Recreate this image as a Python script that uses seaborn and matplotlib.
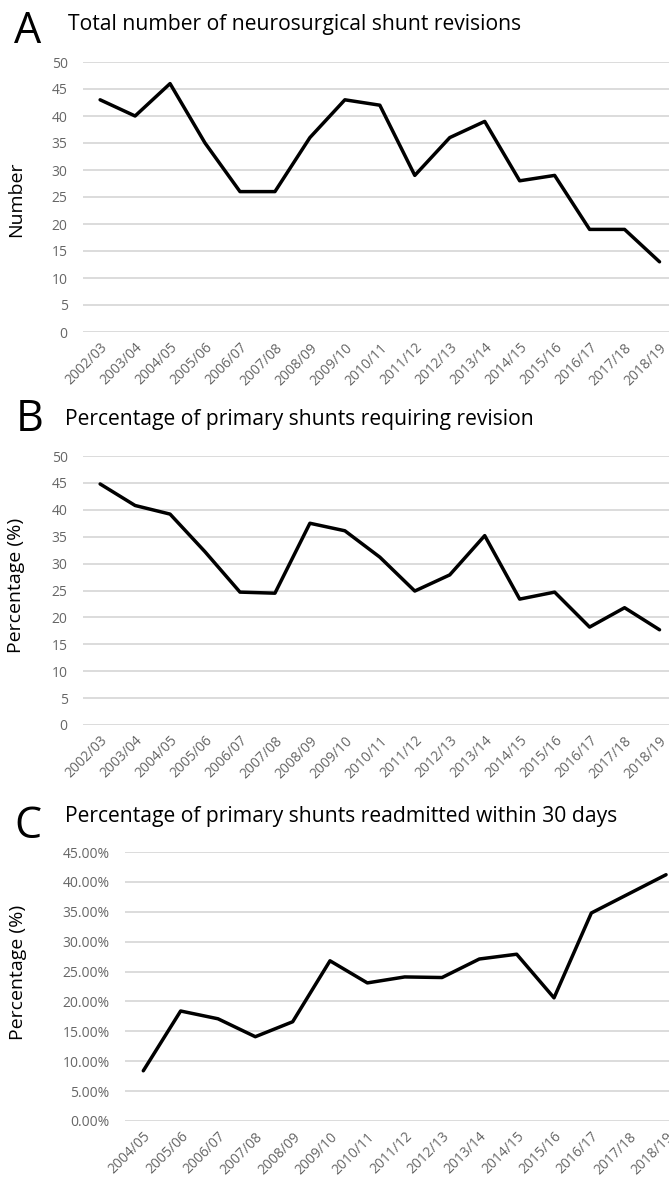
import numpy as np
import pandas as pd
import seaborn as sns
import matplotlib.pyplot as plt
from matplotlib.ticker import FuncFormatter

# Data
years_ab = ["2002/03", "2003/04", "2004/05", "2005/06", "2006/07", "2007/08",
            "2008/09", "2009/10", "2010/11", "2011/12", "2012/13", "2013/14",
            "2014/15", "2015/16", "2016/17", "2017/18", "2018/19"]
revisions = [43, 40, 46, 35, 26, 26, 36, 43, 42, 29, 36, 39, 28, 29, 19, 19, 13]
pct_revision = [44.8, 40.8, 39.2, 32.2, 24.7, 24.5, 37.5, 36.1, 31.2, 24.9,
                27.9, 35.2, 23.4, 24.7, 18.2, 21.8, 17.7]
years_c = years_ab[2:]
pct_readmit = [8.4, 18.4, 17.1, 14.1, 16.6, 26.8, 23.1, 24.1, 24.0, 27.1,
               27.9, 20.6, 34.8, 38.0, 41.2]

sns.set_theme(style="white")
plt.rcParams['font.family'] = ['Open Sans', 'DejaVu Sans']

W, H = 669, 1178
fig = plt.figure(figsize=(W / 100, H / 100), dpi=100)


def px_axes(left, top0, bottom0, right=W):
    # axes rect from pixel coords (top-left origin)
    return fig.add_axes([left / W, 1 - bottom0 / H, (right - left) / W, (bottom0 - top0) / H])


def style(ax, ymax, xmax, ylabel, ylab_x, ylab_y):
    ax.set_ylim(0, ymax)
    ax.set_yticks(np.arange(0, ymax + 2.5, 5))
    ax.set_xlim(-0.49, xmax)
    ax.grid(axis='y', color='#d9d9d9', linewidth=1.3)
    ax.grid(axis='x', visible=False)
    ax.set_axisbelow(True)
    for s in ax.spines.values():
        s.set_visible(False)
    ax.tick_params(axis='y', length=0, colors='#666666', labelsize=10, pad=11)
    ax.tick_params(axis='x', length=0, colors='#666666', labelsize=10, pad=6)
    plt.setp(ax.get_xticklabels(), rotation=45, ha='right', rotation_mode='anchor')
    ax.set_xlabel("")
    ax.set_ylabel(ylabel, fontsize=14, color='black')
    ax.yaxis.set_label_coords(ylab_x / W, 1 - ylab_y / H, transform=fig.transFigure)


# Panel A
axA = px_axes(83, 62, 332)
dfA = pd.DataFrame({"year": years_ab, "value": revisions})
sns.lineplot(data=dfA, x="year", y="value", color='black', linewidth=2.5, ax=axA)
style(axA, 50, (669 - 100) / 34.97, "Number", 25, 199)

# Panel B
axB = px_axes(83, 456, 725)
dfB = pd.DataFrame({"year": years_ab, "value": pct_revision})
sns.lineplot(data=dfB, x="year", y="value", color='black', linewidth=2.5, ax=axB)
style(axB, 50, (669 - 100) / 34.97, "Percentage (%)", 25, 585)

# Panel C
axC = px_axes(125, 852, 1121)
dfC = pd.DataFrame({"year": years_c, "value": pct_readmit})
sns.lineplot(data=dfC, x="year", y="value", color='black', linewidth=2.5, ax=axC)
style(axC, 45, (669 - 143) / 37.36, "Percentage (%)", 27, 972)
axC.yaxis.set_major_formatter(FuncFormatter(lambda v, p: f"{v:.2f}%"))

# Panel letters and titles (pixel baselines)
letters = [("A", 14, 43, "Total number of neurosurgical shunt revisions", 68, 30),
           ("B", 16, 431, "Percentage of primary shunts requiring revision", 65, 425),
           ("C", 14, 838, "Percentage of primary shunts readmitted within 30 days", 65, 822)]
for letter, lx, ly, title, tx, ty in letters:
    fig.text(lx / W, 1 - ly / H, letter, fontsize=31, va='baseline', ha='left', color='black')
    fig.text(tx / W, 1 - ty / H, title, fontsize=15.2, va='baseline', ha='left', color='black')

fig.savefig("out.png", dpi=100)
